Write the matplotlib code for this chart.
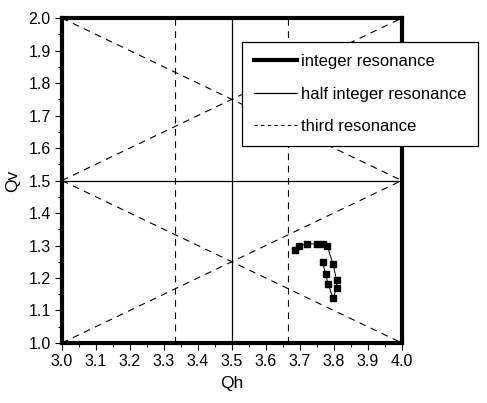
import matplotlib
matplotlib.use("Agg")
import matplotlib.pyplot as plt
from matplotlib.ticker import MultipleLocator

plt.rcParams['font.family'] = ['Liberation Sans', 'DejaVu Sans']

# Measured tune points
qh = [3.687, 3.697, 3.720, 3.752, 3.769, 3.781, 3.798, 3.808, 3.808, 3.798, 3.783, 3.776, 3.767]
qv = [1.286, 1.298, 1.305, 1.305, 1.305, 1.298, 1.242, 1.194, 1.168, 1.138, 1.182, 1.211, 1.249]

# Resonance lines
third_vertical = [10/3, 11/3]
third_diag = [((3.0, 1.0), (4.0, 1.5)), ((3.0, 1.5), (4.0, 1.0)),
              ((3.0, 1.5), (4.0, 2.0)), ((3.0, 2.0), (4.0, 1.5))]
half_qh = [3.5]
half_qv = [1.5]
legend_labels = ['integer resonance', 'half integer resonance', 'third resonance']

fig = plt.figure(figsize=(4.87, 4.03), dpi=100)
ax = fig.add_axes([0.127, 0.149, 0.698, 0.806])

for x in third_vertical:
    ax.plot([x, x], [1.0, 2.0], color='black', lw=0.8, ls=(0, (6, 5)))
for (p, q) in third_diag:
    ax.plot([p[0], q[0]], [p[1], q[1]], color='black', lw=0.8, ls=(0, (6, 5)))
for x in half_qh:
    ax.plot([x, x], [1.0, 2.0], color='black', lw=0.9)
for y in half_qv:
    ax.plot([3.0, 4.0], [y, y], color='black', lw=0.9)

ax.plot(qh, qv, color='black', lw=0.7, marker='s', markersize=4.5)

ax.set_xlim(3.0, 4.0)
ax.set_ylim(1.0, 2.0)
ax.xaxis.set_major_locator(MultipleLocator(0.1))
ax.xaxis.set_minor_locator(MultipleLocator(0.05))
ax.yaxis.set_major_locator(MultipleLocator(0.1))
ax.yaxis.set_minor_locator(MultipleLocator(0.05))
ax.xaxis.set_major_formatter(plt.FormatStrFormatter('%.1f'))
ax.yaxis.set_major_formatter(plt.FormatStrFormatter('%.1f'))
ax.tick_params(which='major', length=5, width=0.8, labelsize=11.5, direction='out', pad=3)
ax.tick_params(which='minor', length=3, width=0.8, direction='out')
for s in ax.spines.values():
    s.set_linewidth(3)

ax.set_xlabel('Qh', fontsize=12.5, labelpad=5)
ax.set_ylabel('Qv', fontsize=12.5, labelpad=6)

h1, = ax.plot([], [], color='black', lw=3)
h2, = ax.plot([], [], color='black', lw=0.9)
h3, = ax.plot([], [], color='black', lw=0.8, ls=(0, (3, 3)))
leg = ax.legend([h1, h2, h3], legend_labels, loc='upper left',
                bbox_to_anchor=(0.53, 0.925), fontsize=12, frameon=True,
                fancybox=False, edgecolor='black', framealpha=1,
                handlelength=2.6, handletextpad=0.25, borderpad=0.7,
                labelspacing=1.05, borderaxespad=0)
leg.get_frame().set_linewidth(0.9)

fig.savefig('out.png', dpi=100)
